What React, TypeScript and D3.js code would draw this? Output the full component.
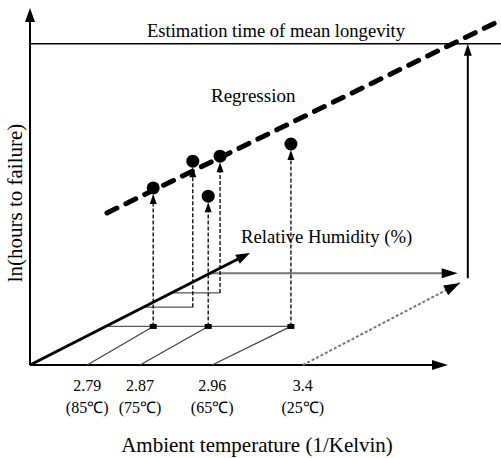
import React from "react";
import { scaleLinear, line } from "d3";

// schematic units: x along temperature axis, y = ln(hours), 0..100
const tempLabels = ["2.79", "2.87", "2.96", "3.4"];
const celsiusLabels = ["(85℃)", "(75℃)", "(65℃)", "(25℃)"];
const tempPos = [13, 25, 41.4, 62];

// humidity squares reached by each test temperature (first three)
const squareX = [28, 40.5, 59.3];
const squareLevel = 10.8;
// projected point for 25C (dotted)
const targetPoint = [97.7, 23];

// humidity levels drawn from the humidity axis to the right
const humidityLevels = [10.8, 16.2, 20.2, 25.7];
const humidityEndX = [59.3, 37, 43.2, 97.2];

// test results: x position, humidity level, ln(hours)
const testX = [28, 37, 40.5, 43.2, 59.3];
const testLevel = [10.8, 16.2, 10.8, 20.2, 10.8];
const testLn = [49.6, 57.1, 47.3, 58.5, 61.9];

const regressionX = [17.5, 107];
const regressionY = [42.6, 96.6];

const humidityAxisEnd = [50, 31.4];
const estimateLevel = 90;
const estimateX = 99.5;

const W = 501;
const H = 458;

function head(x1: number, y1: number, x2: number, y2: number, len: number, w: number) {
  const dx = x2 - x1;
  const dy = y2 - y1;
  const d = Math.sqrt(dx * dx + dy * dy);
  const ux = dx / d;
  const uy = dy / d;
  const bx = x2 - ux * len;
  const by = y2 - uy * len;
  return `${x2},${y2} ${bx - uy * w / 2},${by + ux * w / 2} ${bx + uy * w / 2},${by - ux * w / 2}`;
}

export default function App() {
  const x = scaleLinear().domain([0, 100]).range([30, 470]);
  const y = scaleLinear().domain([0, 100]).range([365, 8]);
  const slope = humidityAxisEnd[0] / humidityAxisEnd[1];
  const lineGen = line<number[]>()
    .x((d) => x(d[0]))
    .y((d) => y(d[1]));
  const font = "'Liberation Serif', 'Times New Roman', serif";

  return (
    <svg width={W} height={H} style={{ position: "absolute", left: 0, top: 0, background: "#fff" }} fontFamily={font}>
      {/* axes */}
      <line x1={x(0)} y1={y(0)} x2={x(0)} y2={y(100) + 12} stroke="#000" strokeWidth={2} />
      <polygon points={head(x(0), y(0), x(0), y(100), 14, 10)} fill="#000" />
      <line x1={x(0)} y1={y(0)} x2={x(95) - 12} y2={y(0)} stroke="#000" strokeWidth={2} />
      <polygon points={head(x(0), y(0), x(95), y(0), 16, 10)} fill="#000" />

      {/* estimation line */}
      <line x1={x(0)} y1={y(estimateLevel)} x2={W} y2={y(estimateLevel)} stroke="#000" strokeWidth={1.5} />
      <text x={276} y={37} textAnchor="middle" fontSize={18.6}>Estimation time of mean longevity</text>

      {/* humidity levels */}
      {humidityLevels.map((lv, i) => (
        <line key={"h" + i} x1={x(lv * slope)} y1={y(lv)} x2={x(humidityEndX[i]) - (i === 3 ? 10 : 0)} y2={y(lv)}
          stroke={i === 3 ? "#777" : "#555"} strokeWidth={i === 3 ? 2 : 1.3} />
      ))}
      <polygon points={head(x(80), y(humidityLevels[3]), x(humidityEndX[3]), y(humidityLevels[3]), 16, 10)} fill="#000" />

      {/* diagonals from temperature ticks */}
      {squareX.map((sx, i) => (
        <path key={"d" + i} d={lineGen([[tempPos[i], 0], [sx, squareLevel]]) || ""} stroke="#444" strokeWidth={1.3} fill="none" />
      ))}
      <path d={lineGen([[tempPos[3], 0], targetPoint]) || ""} stroke="#777" strokeWidth={2} strokeDasharray="3 2" fill="none" />
      <polygon points={head(x(tempPos[3]), y(0), x(targetPoint[0]), y(targetPoint[1]), 16, 11)} fill="#000" />

      {/* right vertical to estimation line */}
      <line x1={x(estimateX)} y1={y(24.3)} x2={x(estimateX)} y2={y(estimateLevel) + 10} stroke="#000" strokeWidth={2} />
      <polygon points={head(x(estimateX), y(50), x(estimateX), y(estimateLevel), 12, 8)} fill="#000" />

      {/* humidity axis */}
      <line x1={x(0)} y1={y(0)} x2={x(humidityAxisEnd[0] - 2.5)} y2={y(humidityAxisEnd[1] - 1.57)} stroke="#000" strokeWidth={3} />
      <polygon points={head(x(0), y(0), x(humidityAxisEnd[0]), y(humidityAxisEnd[1]), 14, 10)} fill="#000" />
      <text x={241} y={243} fontSize={18.7}>Relative Humidity (%)</text>

      {/* squares */}
      {squareX.map((sx, i) => (
        <rect key={"s" + i} x={x(sx) - 3.5} y={y(squareLevel) - 2.5} width={7} height={5} fill="#000" />
      ))}

      {/* test results */}
      {testX.map((tx, i) => (
        <g key={"t" + i}>
          <line x1={x(tx)} y1={y(testLevel[i])} x2={x(tx)} y2={y(testLn[i]) + 14} stroke="#000" strokeWidth={1.3} strokeDasharray="4 2" />
          <polygon points={head(x(tx), y(testLevel[i]), x(tx), y(testLn[i]) + 6, 10, 7)} fill="#000" />
          <circle cx={x(tx)} cy={y(testLn[i])} r={6.5} fill="#000" />
        </g>
      ))}

      {/* regression */}
      <path d={lineGen(regressionX.map((rx, i) => [rx, regressionY[i]])) || ""} stroke="#000" strokeWidth={5}
        strokeDasharray="11 10" strokeLinecap="round" fill="none" />
      <text x={211} y={102} fontSize={19}>Regression</text>

      {/* tick labels */}
      {tempLabels.map((t, i) => (
        <g key={"l" + i}>
          <text x={x(tempPos[i])} y={391} textAnchor="middle" fontSize={16}>{t}</text>
          <text x={x(tempPos[i])} y={413} textAnchor="middle" fontSize={16}>{celsiusLabels[i]}</text>
        </g>
      ))}

      <text x={257} y={452} textAnchor="middle" fontSize={21}>Ambient temperature (1/Kelvin)</text>
      <text transform={`translate(22, 203) rotate(-90)`} textAnchor="middle" fontSize={21}>ln(hours to failure)</text>
    </svg>
  );
}
